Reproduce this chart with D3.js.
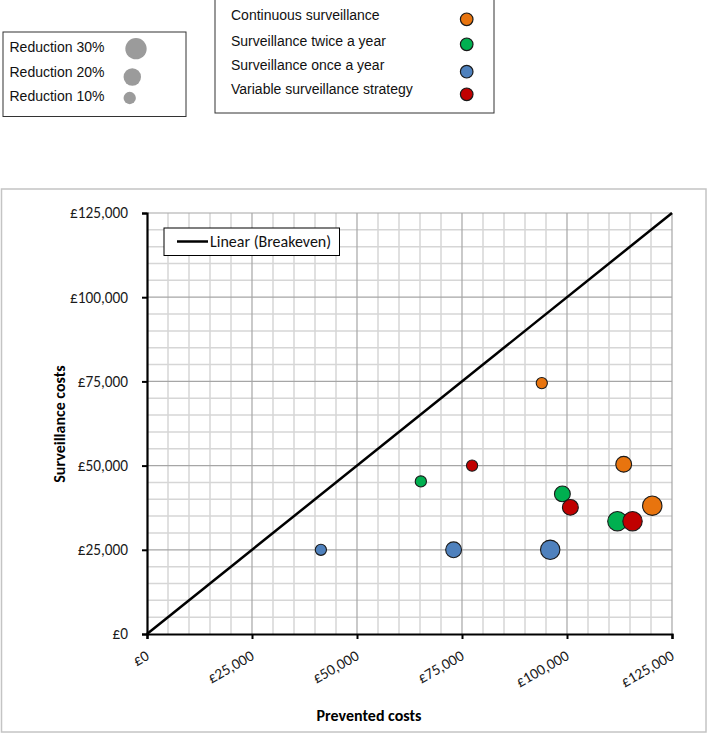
<!DOCTYPE html>
<html><head><meta charset="utf-8">
<script src="https://cdn.jsdelivr.net/npm/d3@7"></script>
<style>body{margin:0;background:#fff}svg{display:block}</style>
</head><body>
<script>
const seriesNames = ["Continuous surveillance","Surveillance twice a year","Surveillance once a year","Variable surveillance strategy"];
const seriesColors = ["#e8740e","#00b050","#4f81bd","#c00000"];
const reductions = [10, 20, 30];
const reductionLabels = ["Reduction 30%","Reduction 20%","Reduction 10%"];
const reductionLegendValues = [30, 20, 10];
const preventedContinuous = [94000, 113500, 120300];
const surveillanceContinuous = [74500, 50400, 38100];
const preventedTwice = [65200, 98900, 112000];
const surveillanceTwice = [45300, 41600, 33500];
const preventedOnce = [41400, 73000, 96000];
const surveillanceOnce = [25000, 25000, 25000];
const preventedVariable = [77400, 100800, 115600];
const surveillanceVariable = [50000, 37600, 33500];
const tickValues = [0, 25000, 50000, 75000, 100000, 125000];
const minorTicks = d3.range(0, 125001, 5000);
const breakeven = [0, 125000];

const preventedAll = [preventedContinuous, preventedTwice, preventedOnce, preventedVariable];
const surveillanceAll = [surveillanceContinuous, surveillanceTwice, surveillanceOnce, surveillanceVariable];

const W = 708, H = 734;
const svg = d3.select("body").append("svg").attr("width", W).attr("height", H);
const calibri = "Carlito, Calibri, Lato, sans-serif";
const arial = "'Liberation Sans', Arial, sans-serif";

// outer chart border
svg.append("rect").attr("x", 1.5).attr("y", 189).attr("width", 704.5).attr("height", 543)
  .attr("fill", "none").attr("stroke", "#c4c4c4").attr("stroke-width", 1.5);

const x = d3.scaleLinear().domain([0, 125000]).range([147, 672]);
const y = d3.scaleLinear().domain([0, 125000]).range([634, 213]);
const r = d3.scaleSqrt().domain([0, 30]).range([0, 9.7]);

// grid
const grid = svg.append("g");
grid.selectAll(".vm").data(minorTicks.filter(d => d % 25000 !== 0)).join("line")
  .attr("x1", d => x(d)).attr("x2", d => x(d)).attr("y1", y(0)).attr("y2", y(125000))
  .attr("stroke", "#d6d6d6").attr("stroke-width", 1.5);
grid.selectAll(".hm").data(minorTicks.filter(d => d % 25000 !== 0)).join("line")
  .attr("y1", d => y(d)).attr("y2", d => y(d)).attr("x1", x(0)).attr("x2", x(125000))
  .attr("stroke", "#d6d6d6").attr("stroke-width", 1.5);
grid.selectAll(".vM").data(tickValues.slice(1)).join("line")
  .attr("x1", d => x(d)).attr("x2", d => x(d)).attr("y1", y(0)).attr("y2", y(125000))
  .attr("stroke", "#a6a6a6").attr("stroke-width", 1.2);
grid.selectAll(".hM").data(tickValues.slice(1)).join("line")
  .attr("y1", d => y(d)).attr("y2", d => y(d)).attr("x1", x(0)).attr("x2", x(125000))
  .attr("stroke", "#a6a6a6").attr("stroke-width", 1.2);

const fmt = d => "£" + d3.format(",")(d);

// y axis
const yAxis = svg.append("g").attr("transform", `translate(${x(0)},0)`)
  .call(d3.axisLeft(y).tickValues(tickValues).tickFormat(fmt).tickSize(5).tickPadding(14));
yAxis.select(".domain").attr("stroke", "#000").attr("stroke-width", 2.2);
yAxis.selectAll(".tick line").attr("stroke", "#000").attr("stroke-width", 2);
yAxis.selectAll("text").attr("font-family", calibri).attr("font-size", 15.3).attr("fill", "#1a1a1a");

// x axis
const xAxis = svg.append("g").attr("transform", `translate(0,${y(0)})`)
  .call(d3.axisBottom(x).tickValues(tickValues).tickFormat(fmt).tickSize(5));
xAxis.select(".domain").attr("stroke", "#000").attr("stroke-width", 2.2);
xAxis.selectAll(".tick line").attr("stroke", "#000").attr("stroke-width", 2);
xAxis.selectAll("text").attr("font-family", calibri).attr("font-size", 15.3).attr("fill", "#1a1a1a")
  .attr("text-anchor", "end").attr("y", 0).attr("dy", "0.35em")
  .attr("transform", "translate(0,20) rotate(-30)");

// breakeven line
svg.append("line").attr("x1", x(breakeven[0])).attr("y1", y(breakeven[0]))
  .attr("x2", x(breakeven[1])).attr("y2", y(breakeven[1]))
  .attr("stroke", "#000").attr("stroke-width", 2.5);

// bubbles
const pts = [];
seriesNames.forEach((s, i) => reductions.forEach((red, j) => {
  pts.push({s: i, red, px: preventedAll[i][j], sy: surveillanceAll[i][j]});
}));
svg.append("g").selectAll("circle").data(pts).join("circle")
  .attr("cx", d => x(d.px)).attr("cy", d => y(d.sy)).attr("r", d => r(d.red))
  .attr("fill", d => seriesColors[d.s]).attr("stroke", "#1a1a1a").attr("stroke-width", 1.1);

// axis titles
svg.append("text").attr("x", 369).attr("y", 721).attr("text-anchor", "middle")
  .attr("font-family", calibri).attr("font-size", 16).attr("font-weight", "bold").text("Prevented costs");
svg.append("text").attr("transform", "translate(65,424) rotate(-90)").attr("text-anchor", "middle")
  .attr("font-family", calibri).attr("font-size", 16).attr("font-weight", "bold").text("Surveillance costs");

// breakeven legend
svg.append("rect").attr("x", 164).attr("y", 228).attr("width", 175.5).attr("height", 27.5)
  .attr("fill", "#fff").attr("stroke", "#000").attr("stroke-width", 1);
svg.append("line").attr("x1", 177).attr("x2", 208).attr("y1", 241.5).attr("y2", 241.5)
  .attr("stroke", "#000").attr("stroke-width", 2.5);
svg.append("text").attr("x", 210).attr("y", 247).attr("font-family", calibri).attr("font-size", 16)
  .attr("fill", "#111").text("Linear (Breakeven)");

// size legend
svg.append("rect").attr("x", 3).attr("y", 32).attr("width", 183).attr("height", 84.5)
  .attr("fill", "#fff").attr("stroke", "#333").attr("stroke-width", 1);
const ry = [52, 77, 101];
const cy = [48.7, 77, 98];
const cx = [136, 132.3, 129.7];
reductionLabels.forEach((t, i) => {
  svg.append("text").attr("x", 9.5).attr("y", ry[i]).attr("font-family", arial).attr("font-size", 14)
    .attr("fill", "#111").text(t);
  svg.append("circle").attr("cx", cx[i]).attr("cy", cy[i]).attr("r", r(reductionLegendValues[i]) * 1.1)
    .attr("fill", "#9b9b9b");
});

// series legend
svg.append("rect").attr("x", 215).attr("y", -1).attr("width", 279).attr("height", 114)
  .attr("fill", "#fff").attr("stroke", "#333").attr("stroke-width", 1);
const sy = [20, 46, 70, 94];
const scy = [19.3, 44.3, 71.7, 94.3];
seriesNames.forEach((t, i) => {
  svg.append("text").attr("x", 231).attr("y", sy[i]).attr("font-family", arial).attr("font-size", 14)
    .attr("fill", "#111").text(t);
  svg.append("circle").attr("cx", 466.7).attr("cy", scy[i]).attr("r", 6.3)
    .attr("fill", seriesColors[i]).attr("stroke", "#1a1a1a").attr("stroke-width", 1.2);
});
</script>
</body></html>
